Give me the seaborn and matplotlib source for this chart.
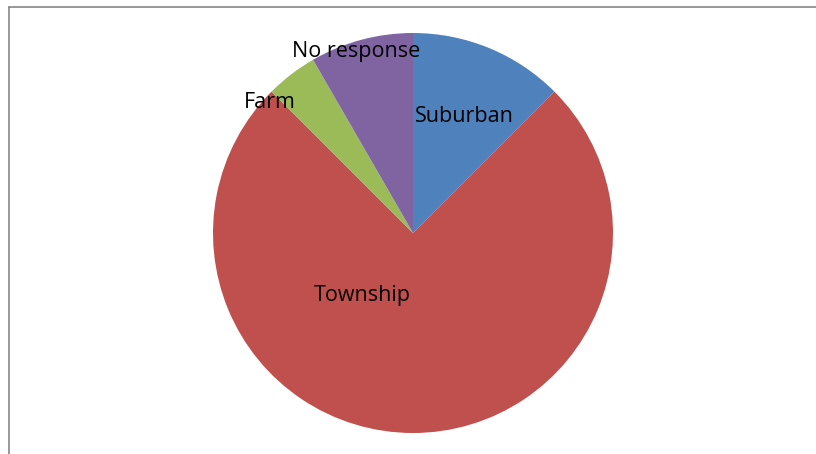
import matplotlib
matplotlib.use("Agg")
import matplotlib.pyplot as plt
from matplotlib.lines import Line2D
import seaborn as sns

# Residence type of respondents
categories = ["Suburban", "Township", "Farm", "No response"]
counts = [3, 18, 1, 2]
colors = ["#4F81BD", "#C0504D", "#9BBB59", "#8064A2"]

sns.set_theme(style="white")
plt.rcParams["font.family"] = ["Open Sans", "DejaVu Sans"]
palette = sns.color_palette(colors)

W, H = 816, 454
fig = plt.figure(figsize=(W / 100, H / 100), dpi=100)
fig.patch.set_facecolor("white")

# pie centred at (413, 233) px from the top-left, radius 200 px
cx, cy, r = 413, 233, 200
ax = fig.add_axes([(cx - r) / W, (H - cy - r) / H, 2 * r / W, 2 * r / H])
ax.pie(counts, colors=palette, startangle=90, counterclock=False,
       radius=1.0, wedgeprops=dict(linewidth=0))
ax.set_xlim(-1, 1)
ax.set_ylim(-1, 1)
ax.set_aspect("equal")
ax.axis("off")

# label positions in pie units
label_pos = {
    "Suburban": (0.255, 0.585),
    "Township": (-0.255, -0.315),
    "Farm": (-0.715, 0.65),
    "No response": (-0.285, 0.905),
}
for name in categories:
    x, y = label_pos[name]
    ax.text(x, y, name, ha="center", va="center", fontsize=15.5, color="black")

# chart area frame
frame_color = "#868686"
fig.add_artist(Line2D([9 / W, 1.0], [1 - 7 / H, 1 - 7 / H],
                      transform=fig.transFigure, color=frame_color, lw=1.2))
fig.add_artist(Line2D([9 / W, 9 / W], [0.0, 1 - 7 / H],
                      transform=fig.transFigure, color=frame_color, lw=1.2))

fig.savefig("out.png", dpi=100, facecolor="white")
